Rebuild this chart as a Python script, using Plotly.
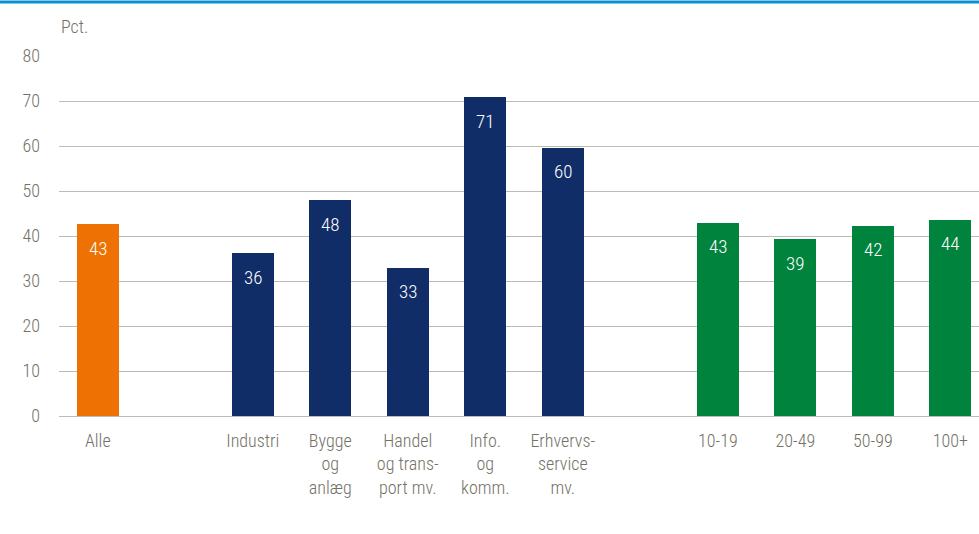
import plotly.graph_objects as go

FONT = "Roboto Condensed, Liberation Sans Narrow, Arial Narrow, sans-serif"
TEXT_COL = "#737166"

categories_all = ["Alle"]
values_all = [42.6]
labels_all = ["43"]

categories_branche = ["Industri", "Bygge<br>og<br>anlæg", "Handel<br>og trans-<br>port mv.",
                      "Info.<br>og<br>komm.", "Erhvervs-<br>service<br>mv."]
values_branche = [36.2, 47.9, 33.0, 70.8, 59.6]
labels_branche = ["36", "48", "33", "71", "60"]

categories_size = ["10-19", "20-49", "50-99", "100+"]
values_size = [43.0, 39.3, 42.3, 43.6]
labels_size = ["43", "39", "42", "44"]

spacer1, spacer2 = " ", "  "
category_order = categories_all + [spacer1] + categories_branche + [spacer2] + categories_size

fig = go.Figure()
annotations = []
for cats, vals, labs, col in [
    (categories_all, values_all, labels_all, "#ee7203"),
    (categories_branche, values_branche, labels_branche, "#112d67"),
    (categories_size, values_size, labels_size, "#00843d"),
]:
    fig.add_trace(go.Bar(
        x=cats, y=vals, marker_color=col, width=0.54,
        marker_line_width=0, showlegend=False, hoverinfo="x+y",
    ))
    for c, v, t in zip(cats, vals, labs):
        annotations.append(dict(x=c, y=v, text=t, xref="x", yref="y", showarrow=False,
                                yanchor="middle", yshift=-24,
                                font=dict(color="white", size=19, family=FONT, weight=300)))

annotations.append(dict(text="Pct.", xref="paper", yref="paper", x=0.0, y=1.0,
                        xanchor="left", yanchor="bottom", yshift=17, showarrow=False,
                        font=dict(size=18, color=TEXT_COL, family=FONT, weight=300)))

fig.update_layout(
    width=979, height=534,
    margin=dict(l=59, r=0, t=56, b=118),
    plot_bgcolor="white", paper_bgcolor="white",
    font=dict(family=FONT, color=TEXT_COL, size=18, weight=300),
    bargap=0,
    xaxis=dict(type="category", categoryorder="array", categoryarray=category_order,
               range=[-0.5, 11.37], showgrid=False, showline=False, zeroline=False,
               tickfont=dict(size=18, color=TEXT_COL, family=FONT, weight=300), ticks="",
               ticklabelstandoff=12),
    yaxis=dict(range=[0, 80], dtick=10, showgrid=True, gridcolor="#bdbcb0", gridwidth=1,
               zeroline=True, zerolinecolor="#bdbcb0", zerolinewidth=1,
               showline=False, ticks="", ticklabelstandoff=18,
               tickfont=dict(size=18, color=TEXT_COL, family=FONT, weight=300)),
    annotations=annotations,
    shapes=[dict(type="line", xref="paper", yref="paper", x0=-0.07, x1=1.0,
                 y0=1 + 54 / 360, y1=1 + 54 / 360, line=dict(color="#0a8fd0", width=3))],
)

fig.write_html("out.html", config={"displayModeBar": False},
               post_script="document.body.style.margin='0';document.body.style.overflow='hidden';")
